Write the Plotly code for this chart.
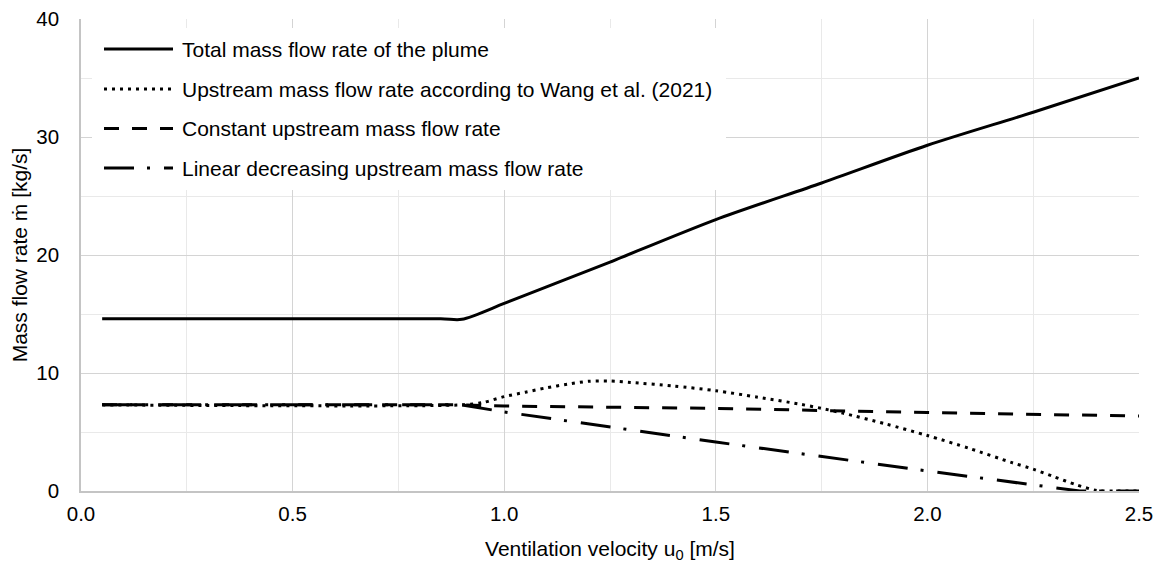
import plotly.graph_objects as go

# ---------------- data ----------------
u_total = [0.05, 0.85, 0.90, 1.00, 1.10, 1.20, 1.25, 1.50, 1.75, 2.00, 2.25, 2.50]
m_total = [14.6, 14.6, 14.55, 15.9, 17.3, 18.7, 19.4, 23.0, 26.1, 29.3, 32.1, 35.0]

u_wang = [0.05, 0.90, 0.95, 1.00, 1.05, 1.10, 1.15, 1.20, 1.25, 1.30, 1.40, 1.50,
          1.60, 1.70, 1.75, 1.80, 1.90, 2.00, 2.10, 2.20, 2.25, 2.30, 2.35, 2.40, 2.45, 2.50]
m_wang = [7.3, 7.3, 7.5, 8.0, 8.37, 8.75, 9.05, 9.3, 9.32, 9.2, 8.9, 8.5,
          7.95, 7.35, 7.0, 6.6, 5.7, 4.7, 3.6, 2.4, 1.85, 1.2, 0.55, 0.05, 0.0, 0.0]

u_const = [0.05, 0.90, 1.00, 1.50, 2.00, 2.50]
m_const = [7.3, 7.3, 7.2, 7.0, 6.65, 6.35]

u_lin = [0.05, 0.90, 1.00, 1.50, 2.00, 2.36, 2.50]
m_lin = [7.3, 7.3, 6.7, 4.15, 1.7, 0.0, 0.0]

names = [
    "Total mass flow rate of the plume",
    "Upstream mass flow rate according to Wang et al. (2021)",
    "Constant upstream mass flow rate",
    "Linear decreasing upstream mass flow rate",
]
dashes = ["solid", "3px,5px", "15px,13px", "30px,13px,3px,14px"]
shapes_ = ["spline", "spline", "linear", "linear"]
series = [(u_total, m_total), (u_wang, m_wang), (u_const, m_const), (u_lin, m_lin)]

x_ticks = [0.0, 0.5, 1.0, 1.5, 2.0, 2.5]
x_ticktext = ["0.0", "0.5", "1.0", "1.5", "2.0", "2.5"]
y_ticks = [0, 10, 20, 30, 40]

FONT = "Liberation Sans, Arial, sans-serif"

fig = go.Figure()
for (xs, ys), nm, ds, sh in zip(series, names, dashes, shapes_):
    line = dict(color="black", width=3, dash=ds, shape=sh)
    if sh == "spline":
        line["smoothing"] = 0.8
    fig.add_trace(go.Scatter(
        x=xs, y=ys, name=nm, mode="lines", line=line,
        cliponaxis=False, showlegend=False,
    ))

# ---------------- custom legend (white box, samples, labels) ----------------
L, R, T, B = 81, 1139, 19, 491
W, H = R - L, B - T
def px(x):
    return (x - L) / W
def py(y):
    return (B - y) / H

shapes = [dict(type="rect", xref="paper", yref="paper",
               x0=px(92), x1=px(726), y0=py(190), y1=py(28),
               fillcolor="white", line=dict(width=0), layer="above")]
annotations = []
row_y = [49, 89, 128.5, 168]
for nm, ds, ry in zip(names, dashes, row_y):
    shapes.append(dict(type="line", xref="paper", yref="paper",
                       x0=px(104), x1=px(173), y0=py(ry), y1=py(ry),
                       line=dict(color="black", width=3, dash=ds), layer="above"))
    annotations.append(dict(xref="paper", yref="paper", x=px(180), y=py(ry),
                            xanchor="left", yanchor="middle", text=nm, showarrow=False,
                            font=dict(family=FONT, size=21, color="black")))

fig.update_layout(
    width=1160, height=563,
    margin=dict(l=L, r=1160 - R, t=T, b=563 - B, autoexpand=False),
    paper_bgcolor="white", plot_bgcolor="white",
    font=dict(family=FONT, size=20.5, color="black"),
    shapes=shapes, annotations=annotations,
    showlegend=False,
)
fig.update_xaxes(
    range=[0, 2.5], tickvals=x_ticks, ticktext=x_ticktext,
    showgrid=True, gridcolor="#d4d4d4", gridwidth=1.3,
    minor=dict(dtick=0.25, tick0=0, showgrid=True, gridcolor="#e9e9e9", gridwidth=1.3),
    showline=True, linecolor="#c4c4c4", linewidth=1.5,
    ticks="", ticklabelstandoff=4, zeroline=False, layer="below traces",
    title=dict(text="Ventilation velocity u<sub>0</sub> [m/s]", font=dict(size=21), standoff=17),
    automargin=False,
)
fig.update_yaxes(
    range=[0, 40], tickvals=y_ticks,
    showgrid=True, gridcolor="#d4d4d4", gridwidth=1.3,
    minor=dict(dtick=5, tick0=0, showgrid=True, gridcolor="#e9e9e9", gridwidth=1.3),
    showline=True, linecolor="#c4c4c4", linewidth=1.5,
    ticks="", ticklabelstandoff=16, zeroline=False, layer="below traces",
    title=dict(text="Mass flow rate ṁ [kg/s]", font=dict(size=21), standoff=3),
    automargin=False,
)

fig.write_html("out.html", post_script="document.body.style.margin='0px';",
               config={"displayModeBar": False})
